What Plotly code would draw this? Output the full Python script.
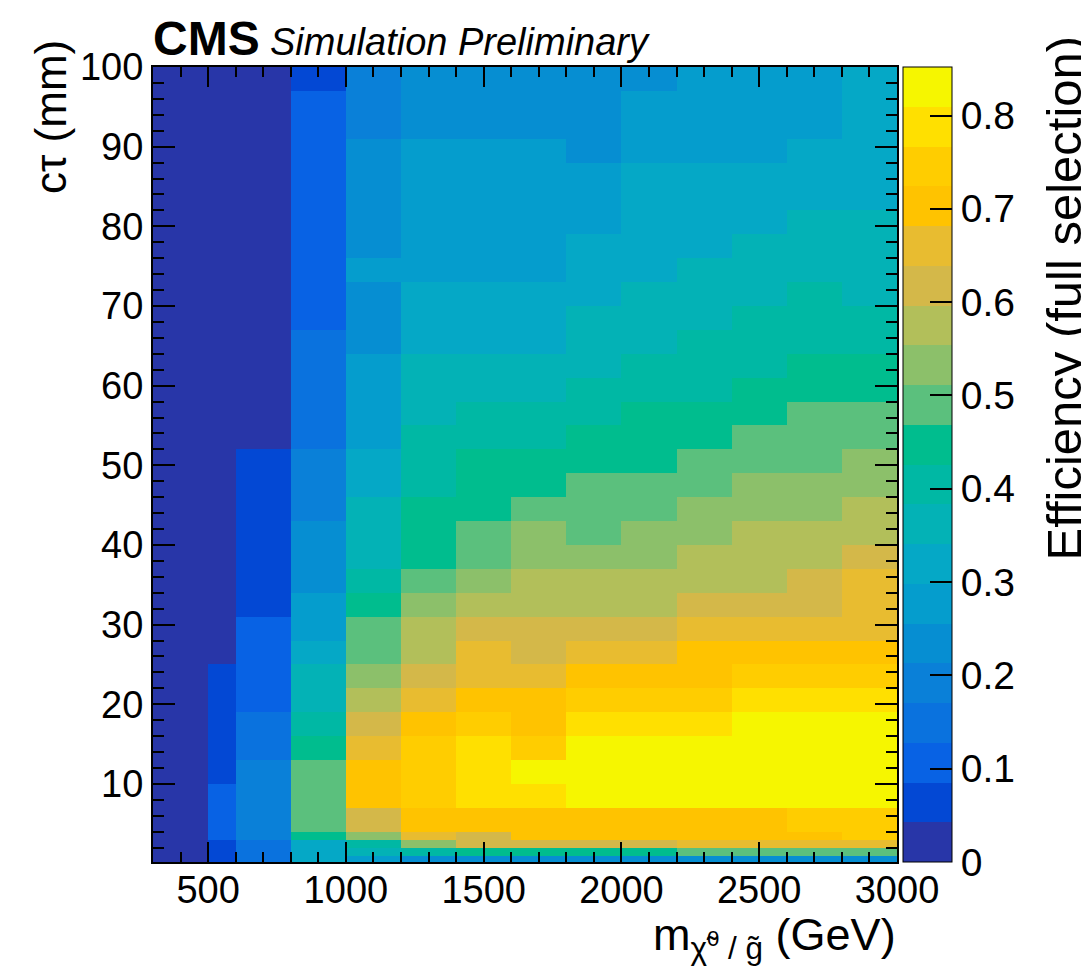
import plotly.graph_objects as go

# ---------------- data ----------------
mass_edges = [300, 500, 600, 800, 1000, 1200, 1400, 1600, 1800, 2000,
              2200, 2400, 2600, 2800, 3000]
ctau_edges = [0.2, 1, 2, 3, 4, 7, 10, 13, 16, 19, 22, 25, 28, 31, 34, 37,
              40, 43, 46, 49, 52, 55, 58, 61, 64, 67, 70, 73, 76, 79, 82,
              85, 88, 91, 94, 97, 100]

# efficiency per mass column, listed from lowest ctau bin to highest
eff_m400 = [0.02, 0.02, 0.02, 0.02, 0.02, 0.02, 0.02, 0.02, 0.02, 0.02, 0.02, 0.02,
            0.02, 0.02, 0.02, 0.02, 0.02, 0.02, 0.02, 0.02, 0.02, 0.02, 0.02, 0.02,
            0.02, 0.02, 0.02, 0.02, 0.02, 0.02, 0.02, 0.02, 0.02, 0.02, 0.02, 0.02]
eff_m550 = [0.06, 0.06, 0.06, 0.11, 0.11, 0.11, 0.06, 0.06, 0.06, 0.06, 0.06, 0.02,
            0.02, 0.02, 0.02, 0.02, 0.02, 0.02, 0.02, 0.02, 0.02, 0.02, 0.02, 0.02,
            0.02, 0.02, 0.02, 0.02, 0.02, 0.02, 0.02, 0.02, 0.02, 0.02, 0.02, 0.02]
eff_m700 = [0.15, 0.15, 0.15, 0.19, 0.19, 0.19, 0.19, 0.15, 0.15, 0.11, 0.11, 0.11,
            0.11, 0.06, 0.06, 0.06, 0.06, 0.06, 0.06, 0.06, 0.02, 0.02, 0.02, 0.02,
            0.02, 0.02, 0.02, 0.02, 0.02, 0.02, 0.02, 0.02, 0.02, 0.02, 0.02, 0.02]
eff_m900 = [0.32, 0.32, 0.32, 0.45, 0.49, 0.49, 0.49, 0.45, 0.40, 0.36, 0.36, 0.32,
            0.28, 0.28, 0.23, 0.23, 0.23, 0.19, 0.19, 0.19, 0.15, 0.15, 0.15, 0.15,
            0.15, 0.11, 0.11, 0.11, 0.11, 0.11, 0.11, 0.11, 0.11, 0.11, 0.11, 0.06]
eff_m1100 = [0.28, 0.36, 0.40, 0.53, 0.62, 0.70, 0.70, 0.66, 0.62, 0.57, 0.53, 0.49,
             0.49, 0.45, 0.40, 0.36, 0.36, 0.36, 0.32, 0.32, 0.28, 0.28, 0.28, 0.28,
             0.23, 0.23, 0.23, 0.28, 0.23, 0.23, 0.23, 0.23, 0.23, 0.19, 0.19, 0.19]
eff_m1300 = [0.23, 0.40, 0.53, 0.66, 0.70, 0.75, 0.75, 0.75, 0.70, 0.66, 0.62, 0.57,
             0.57, 0.53, 0.49, 0.45, 0.45, 0.45, 0.40, 0.40, 0.40, 0.36, 0.36, 0.36,
             0.32, 0.32, 0.32, 0.28, 0.28, 0.28, 0.28, 0.28, 0.28, 0.23, 0.23, 0.23]
eff_m1500 = [0.23, 0.45, 0.62, 0.62, 0.70, 0.79, 0.79, 0.79, 0.75, 0.70, 0.66, 0.66,
             0.62, 0.57, 0.53, 0.49, 0.49, 0.45, 0.45, 0.45, 0.40, 0.40, 0.36, 0.36,
             0.32, 0.32, 0.32, 0.28, 0.28, 0.28, 0.28, 0.28, 0.28, 0.23, 0.23, 0.23]
eff_m1700 = [0.23, 0.45, 0.62, 0.70, 0.70, 0.79, 0.83, 0.75, 0.70, 0.70, 0.66, 0.62,
             0.62, 0.57, 0.57, 0.53, 0.53, 0.49, 0.45, 0.45, 0.40, 0.40, 0.36, 0.36,
             0.32, 0.32, 0.32, 0.28, 0.28, 0.28, 0.28, 0.28, 0.28, 0.23, 0.23, 0.23]
eff_m1900 = [0.23, 0.45, 0.62, 0.70, 0.70, 0.83, 0.83, 0.83, 0.79, 0.75, 0.70, 0.66,
             0.62, 0.57, 0.57, 0.53, 0.49, 0.49, 0.49, 0.45, 0.45, 0.40, 0.40, 0.36,
             0.36, 0.36, 0.32, 0.32, 0.32, 0.28, 0.28, 0.28, 0.23, 0.23, 0.23, 0.23]
eff_m2100 = [0.23, 0.45, 0.62, 0.70, 0.70, 0.83, 0.83, 0.83, 0.79, 0.75, 0.70, 0.66,
             0.62, 0.57, 0.57, 0.53, 0.53, 0.49, 0.49, 0.45, 0.45, 0.45, 0.40, 0.40,
             0.36, 0.36, 0.36, 0.32, 0.32, 0.32, 0.32, 0.32, 0.28, 0.28, 0.28, 0.23]
eff_m2300 = [0.23, 0.49, 0.66, 0.70, 0.70, 0.83, 0.83, 0.83, 0.79, 0.75, 0.70, 0.70,
             0.66, 0.62, 0.57, 0.57, 0.53, 0.53, 0.49, 0.49, 0.45, 0.45, 0.40, 0.40,
             0.40, 0.36, 0.36, 0.36, 0.32, 0.32, 0.32, 0.32, 0.28, 0.28, 0.28, 0.28]
eff_m2500 = [0.23, 0.49, 0.66, 0.70, 0.70, 0.83, 0.83, 0.83, 0.83, 0.79, 0.75, 0.70,
             0.66, 0.62, 0.57, 0.57, 0.57, 0.53, 0.53, 0.49, 0.49, 0.45, 0.45, 0.40,
             0.40, 0.40, 0.36, 0.36, 0.36, 0.32, 0.32, 0.32, 0.28, 0.28, 0.28, 0.28]
eff_m2700 = [0.23, 0.49, 0.66, 0.70, 0.75, 0.83, 0.83, 0.83, 0.83, 0.79, 0.75, 0.70,
             0.66, 0.62, 0.62, 0.57, 0.57, 0.53, 0.53, 0.49, 0.49, 0.49, 0.45, 0.45,
             0.40, 0.40, 0.40, 0.36, 0.36, 0.36, 0.32, 0.32, 0.32, 0.28, 0.28, 0.28]
eff_m2900 = [0.23, 0.49, 0.66, 0.75, 0.75, 0.83, 0.83, 0.83, 0.83, 0.79, 0.75, 0.70,
             0.66, 0.66, 0.66, 0.62, 0.57, 0.57, 0.53, 0.53, 0.49, 0.49, 0.45, 0.45,
             0.40, 0.40, 0.36, 0.36, 0.36, 0.36, 0.32, 0.32, 0.32, 0.32, 0.32, 0.32]

columns = [eff_m400, eff_m550, eff_m700, eff_m900, eff_m1100, eff_m1300, eff_m1500,
           eff_m1700, eff_m1900, eff_m2100, eff_m2300, eff_m2500, eff_m2700, eff_m2900]

x_tick_vals = [500, 1000, 1500, 2000, 2500, 3000]
x_tick_text = ["500", "1000", "1500", "2000", "2500", "3000"]
y_tick_vals = [10, 20, 30, 40, 50, 60, 70, 80, 90, 100]
y_tick_text = ["10", "20", "30", "40", "50", "60", "70", "80", "90", "100"]
z_tick_vals = [0, 0.1, 0.2, 0.3, 0.4, 0.5, 0.6, 0.7, 0.8]
z_tick_text = ["0", "0.1", "0.2", "0.3", "0.4", "0.5", "0.6", "0.7", "0.8"]

z_max = 0.852
n_levels = 20
# ROOT-like "bird" palette, one colour per contour level
level_colors = ["#2836a8", "#0348d4", "#0862e4", "#0a72de", "#0a80d8",
                "#068ed2", "#059dcd", "#05a8c6", "#03b2b6", "#00b8a4",
                "#00bd8e", "#5bc07d", "#8cc06a", "#b2bf5a", "#d4b849",
                "#e8bc30", "#ffc300", "#ffcd00", "#ffe000", "#f6f600"]

# ---------------- figure ----------------
z = [list(row) for row in zip(*columns)]  # rows = ctau bins, cols = mass bins

colorscale = []
for i, c in enumerate(level_colors):
    colorscale.append([i / n_levels, c])
    colorscale.append([(i + 1) / n_levels, c])

FONT = "Liberation Sans"
W, H = 1081, 972
L, R, T, B = 153, 184, 67, 110
PW, PH = W - L - R, H - T - B


def py(pix):
    """paper y coordinate of a pixel row of the page"""
    return (T + PH - pix) / PH


def px(pix):
    """paper x coordinate of a pixel column of the page"""
    return (pix - L) / PW


fig = go.Figure(go.Heatmap(
    x=mass_edges, y=ctau_edges, z=z,
    zmin=0, zmax=z_max, colorscale=colorscale, zsmooth=False,
    colorbar=dict(
        thickness=49, thicknessmode="pixels", len=1, lenmode="fraction",
        x=px(903), xanchor="left", y=0.5, yanchor="middle",
        xpad=0, ypad=0, outlinewidth=1, outlinecolor="black",
        ticks="inside", ticklen=22, tickwidth=1.5, tickcolor="black",
        tickvals=z_tick_vals, ticktext=z_tick_text,
        tickfont=dict(family=FONT, size=39, color="black"),
    ),
))

axis_common = dict(
    showgrid=False, zeroline=False, showline=True, linecolor="black",
    linewidth=2, mirror="ticks", ticks="inside", tickcolor="black",
    tickwidth=1.5, tickfont=dict(family=FONT, size=38, color="black"),
)

fig.update_layout(
    width=W, height=H,
    margin=dict(l=L, r=R, t=T, b=B, pad=0),
    paper_bgcolor="white", plot_bgcolor="white",
    xaxis=dict(range=[300, 3000], tickvals=x_tick_vals, ticktext=x_tick_text,
               ticklen=20, ticklabelstandoff=-7,
               minor=dict(dtick=100, tick0=0, ticklen=10, ticks="inside",
                          tickcolor="black", tickwidth=1.5),
               **axis_common),
    yaxis=dict(range=[0.2, 100], tickvals=y_tick_vals, ticktext=y_tick_text,
               ticklen=22,
               minor=dict(dtick=2, tick0=0, ticklen=11, ticks="inside",
                          tickcolor="black", tickwidth=1.5),
               **axis_common),
    showlegend=False,
)

annotations = [
    dict(text="<b>CMS</b>", x=px(151), y=py(67), xref="paper", yref="paper",
         xanchor="left", yanchor="bottom", showarrow=False,
         font=dict(family=FONT, size=48, color="black")),
    dict(text="<i>Simulation Preliminary</i>", x=px(268), y=py(65),
         xref="paper", yref="paper", xanchor="left", yanchor="bottom",
         showarrow=False, font=dict(family=FONT, size=38, color="black")),
    dict(text="cτ (mm)", x=px(50), y=py(38), xref="paper",
         yref="paper", xanchor="center", yanchor="top", textangle=-90,
         showarrow=False, font=dict(family=FONT, size=44, color="black")),
    dict(text="m<sub>χ̃<sup>0</sup> / g̃</sub> (GeV)", x=px(898), y=py(968),
         xref="paper", yref="paper", xanchor="right", yanchor="bottom",
         showarrow=False, font=dict(family=FONT, size=45, color="black")),
    dict(text="Efficiency (full selection)", x=px(1063), y=py(34),
         xref="paper", yref="paper", xanchor="center", yanchor="top",
         textangle=-90, showarrow=False,
         font=dict(family=FONT, size=49, color="black")),
]
fig.update_layout(annotations=annotations)

fig.write_html("out.html")
